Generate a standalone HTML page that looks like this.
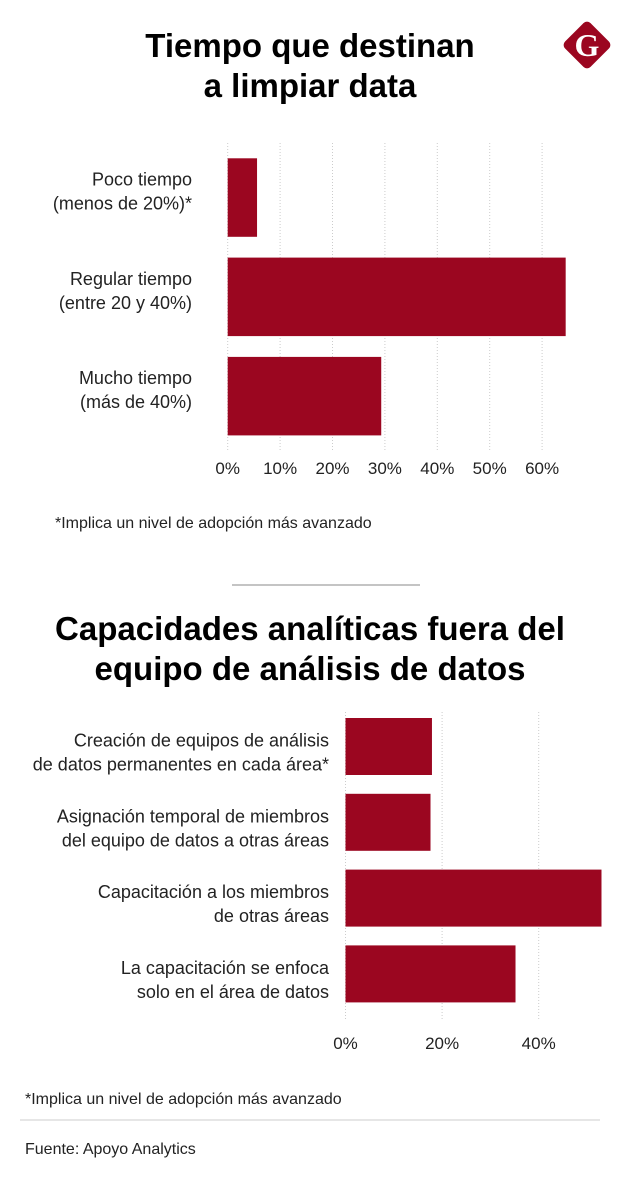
<!DOCTYPE html>
<html><head><meta charset="utf-8">
<style>
body{margin:0;background:#fff;width:620px;height:1189px;overflow:hidden;font-family:"Liberation Sans",sans-serif;color:#111}
svg{display:block}
.t{font-weight:bold;font-size:33px;fill:#000}
.lab{font-size:18px;fill:#222}
.tick{font-size:17px;fill:#222}
.note{font-size:16px;fill:#222}
</style></head>
<body>
<svg id="s" width="620" height="1189">
<text class="t" x="310" y="57" text-anchor="middle">Tiempo que destinan</text>
<text class="t" x="310" y="97" text-anchor="middle">a limpiar data</text>
<g>
<rect x="569" y="27" width="36" height="36" rx="5" fill="#9b0620" transform="rotate(45 587 45)"/>
<text x="587" y="56" text-anchor="middle" font-family="Liberation Serif" font-weight="bold" font-size="32" fill="#fff">G</text>
</g>
<g id="c1"></g>
<text class="note" x="55" y="528">*Implica un nivel de adopción más avanzado</text>
<line x1="232" y1="585" x2="420" y2="585" stroke="#888" stroke-width="1"/>
<text class="t" x="310" y="640" text-anchor="middle">Capacidades analíticas fuera del</text>
<text class="t" x="310" y="680" text-anchor="middle">equipo de análisis de datos</text>
<g id="c2"></g>
<text class="note" x="25" y="1104">*Implica un nivel de adopción más avanzado</text>
<line x1="20" y1="1120" x2="600" y2="1120" stroke="#ccc" stroke-width="1"/>
<text class="note" x="25" y="1154">Fuente: Apoyo Analytics</text>
</svg>
<script>
const c1Labels=[["Poco tiempo","(menos de 20%)*"],["Regular tiempo","(entre 20 y 40%)"],["Mucho tiempo","(más de 40%)"]];
const c1Values=[5.6,64.5,29.3];
const c1Ticks=[0,10,20,30,40,50,60];
const c2Labels=[["Creación de equipos de análisis","de datos permanentes en cada área*"],["Asignación temporal de miembros","del equipo de datos a otras áreas"],["Capacitación a los miembros","de otras áreas"],["La capacitación se enfoca","solo en el área de datos"]];
const c2Values=[17.9,17.6,53.0,35.2];
const c2Ticks=[0,20,40];
const NS="http://www.w3.org/2000/svg";
function mk(p,t,a){const e=document.createElementNS(NS,t);for(const k in a)e.setAttribute(k,a[k]);p.appendChild(e);return e;}
function draw(g,labels,values,ticks,x0,pxPer,y0,step,bh,labX,gTop,gBot,tickY,pre,off){
 const x=v=>x0+v*pxPer;
 ticks.forEach(t=>{
  const l=mk(g,'line',{x1:x(t),x2:x(t),y1:gTop,y2:gBot,stroke:'#ccc','stroke-dasharray':'1,2'});
  
  
  const tx=mk(g,'text',{x:x(t),y:tickY,'text-anchor':'middle',class:'tick'});tx.textContent=t+'%';
  
  
 });
 values.forEach((v,i)=>{
  const y=y0+i*step;
  const r=mk(g,'rect',{x:x0,y:y,width:x(v)-x0,height:bh,fill:'#9b0620'});
  
  
  const cy=y+bh/2;
  labels[i].forEach((s,j)=>{
   const t=mk(g,'text',{x:labX,y:cy+off+(j-0.5)*24+6,'text-anchor':'end',class:'lab'});t.textContent=s;
   
   
  });
 });
}
draw(document.getElementById('c1'),c1Labels,c1Values,c1Ticks,227.7,5.24,158.3,99.3,78.5,192,143,452,474,'c1-',-6);
draw(document.getElementById('c2'),c2Labels,c2Values,c2Ticks,345.5,4.83,718,75.8,57,329,712,1020,1049,'c2-',6);
</script>
</body></html>
